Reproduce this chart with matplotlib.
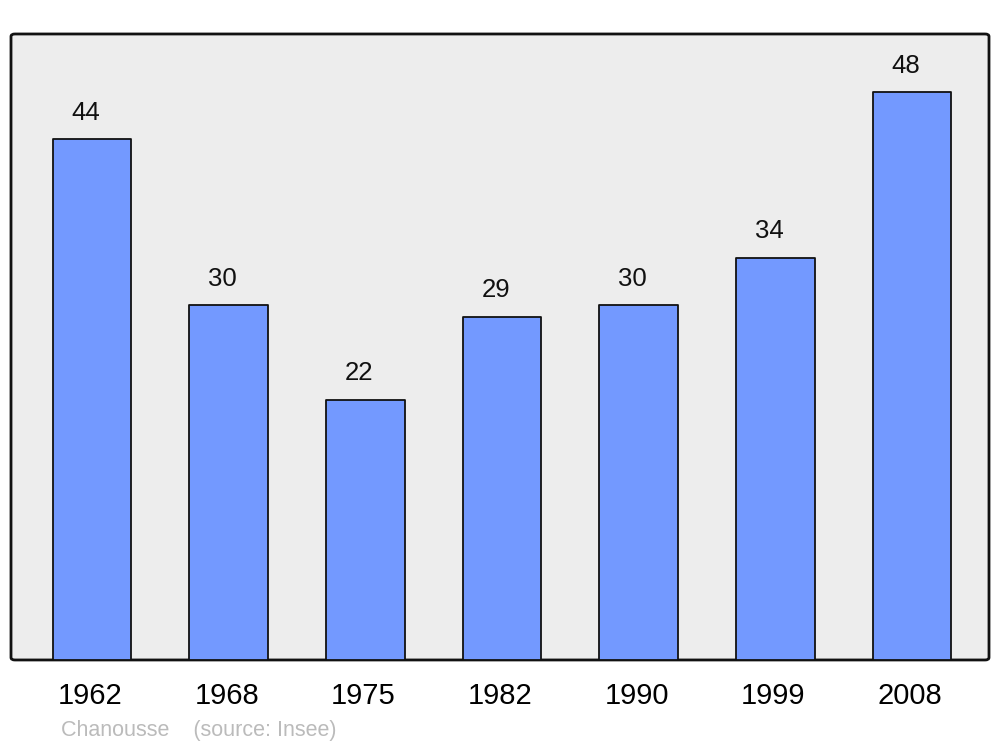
import matplotlib.pyplot as plt
from matplotlib.patches import FancyBboxPatch
from matplotlib.transforms import ScaledTranslation

plt.rcParams['font.family'] = ['Liberation Sans', 'DejaVu Sans']

years = ['1962', '1968', '1975', '1982', '1990', '1999', '2008']
population = [44, 30, 22, 29, 30, 34, 48]

fig = plt.figure(figsize=(10, 7.47), dpi=100)
ax = fig.add_axes([0.011, 0.1165, 0.978, 0.838])
ax.set_facecolor('none')

# fond gris avec coins arrondis
frame = FancyBboxPatch((0, 0), 1, 1, boxstyle='round,pad=0,rounding_size=0.004',
                       transform=ax.transAxes, facecolor='#ededed', edgecolor='#111111',
                       linewidth=2, clip_on=False, zorder=0)
ax.add_patch(frame)

x = list(range(len(years)))
bars = ax.bar(x, population, width=0.575, color='#7399ff', edgecolor='#111111',
              linewidth=1.3, zorder=2)
for b in bars:
    b.set_joinstyle('round')

for xi, v in zip(x, population):
    ax.annotate(str(v), (xi, v), xytext=(-4.5, 19), textcoords='offset points',
                ha='center', va='center', fontsize=18.5, color='#111111')

ax.set_xlim(-0.593, 6.563)
ax.set_ylim(0, 52.9)
for s in ax.spines.values():
    s.set_visible(False)
ax.set_yticks([])
ax.set_xticks(x)
ax.set_xticklabels(years, fontsize=21)
ax.tick_params(axis='x', length=0, pad=15.5)
shift = ScaledTranslation(-1.5 / 72, 0, fig.dpi_scale_trans)
for lbl in ax.get_xticklabels():
    lbl.set_transform(lbl.get_transform() + shift)

fig.text(0.061, 0.0225, 'Chanousse    (source: Insee)', fontsize=15.5, color='#bbbbbb',
         ha='left', va='center')

fig.savefig('out.png', dpi=100)
